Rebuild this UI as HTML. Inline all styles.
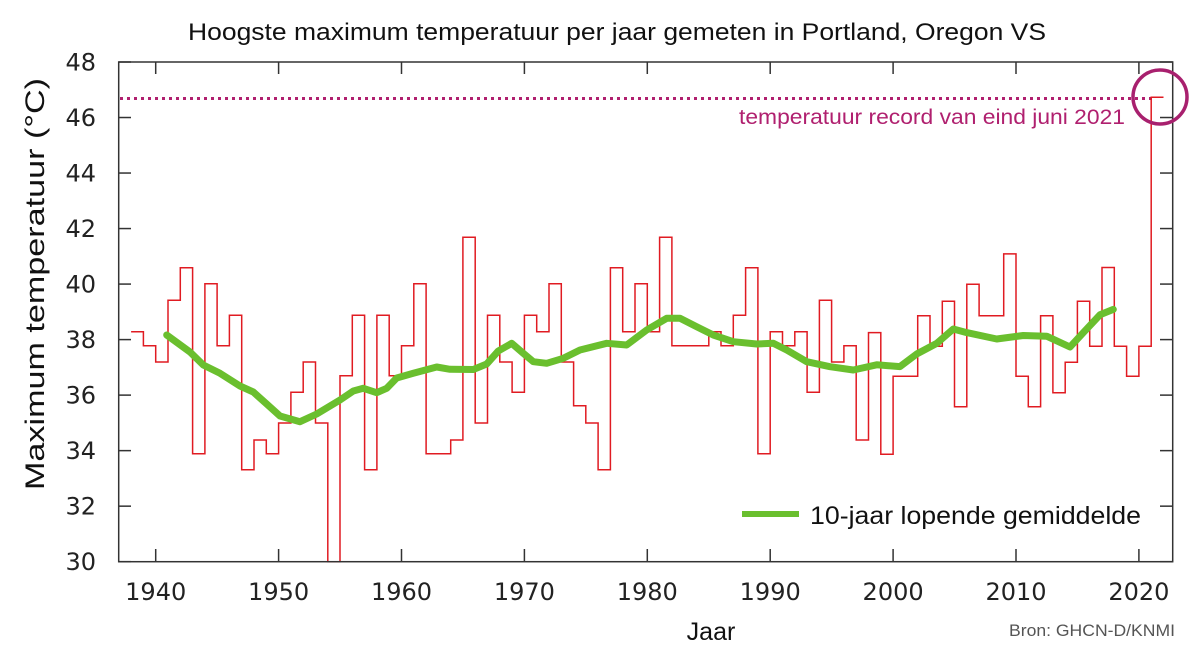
<!DOCTYPE html>
<html><head><meta charset="utf-8"><style>html,body{margin:0;padding:0;background:#fff}svg{display:block}</style></head>
<body>
<svg id="c" width="1200" height="672" xmlns="http://www.w3.org/2000/svg">
<rect width="1200" height="672" fill="#fff"/>
<text x="188" y="40" font-family="Liberation Sans, sans-serif" font-size="24" fill="#111" textLength="858" lengthAdjust="spacingAndGlyphs">Hoogste maximum temperatuur per jaar gemeten in Portland, Oregon VS</text>
<g id="ticks" stroke="#333" stroke-width="1.5"></g>
<g id="labels" font-family="DejaVu Sans, sans-serif" font-size="24" fill="#222"></g>
<line x1="120" y1="98.5" x2="1152" y2="98.5" stroke="#b0206f" stroke-width="3" stroke-dasharray="3,4"/>
<text x="739" y="124" font-family="Liberation Sans, sans-serif" font-size="21" fill="#b0206f" textLength="386" lengthAdjust="spacingAndGlyphs">temperatuur record van eind juni 2021</text>
<path id="step" fill="none" stroke="#e01b22" stroke-width="1.5"/>
<path id="avg" fill="none" stroke="#6abf2e" stroke-width="7" stroke-linecap="round" stroke-linejoin="round"/>
<rect x="118.7" y="62" width="1054" height="499.7" fill="none" stroke="#333" stroke-width="1.5"/>
<circle cx="1160" cy="97" r="27" fill="none" stroke="#a8206e" stroke-width="3.5"/>
<line x1="742" y1="514" x2="799" y2="514" stroke="#6abf2e" stroke-width="6"/>
<text x="810" y="524" font-family="Liberation Sans, sans-serif" font-size="25" fill="#111" textLength="331" lengthAdjust="spacingAndGlyphs">10-jaar lopende gemiddelde</text>
<text x="711" y="640" text-anchor="middle" font-family="Liberation Sans, sans-serif" font-size="25" fill="#111">Jaar</text>
<text x="1009" y="636" font-family="Liberation Sans, sans-serif" font-size="17" fill="#555" textLength="166" lengthAdjust="spacingAndGlyphs">Bron: GHCN-D/KNMI</text>
<text transform="translate(44,284) rotate(-90)" text-anchor="middle" font-family="Liberation Sans, sans-serif" font-size="27" fill="#111" textLength="412" lengthAdjust="spacingAndGlyphs">Maximum temperatuur (°C)</text>
</svg>
<script>
var NS="http://www.w3.org/2000/svg";
function X(y){return 155.7+(y-1940)*12.29}
function Y(t){return 62+(48-t)*27.76}
var tk=document.getElementById('ticks'),lb=document.getElementById('labels');
function L(x1,y1,x2,y2){var l=document.createElementNS(NS,'line');l.setAttribute('x1',x1);l.setAttribute('y1',y1);l.setAttribute('x2',x2);l.setAttribute('y2',y2);tk.appendChild(l);}
function T(x,y,s,a){var t=document.createElementNS(NS,'text');t.setAttribute('x',x);t.setAttribute('y',y);t.setAttribute('text-anchor',a);t.textContent=s;lb.appendChild(t);}
for(var v=30;v<=48;v+=2){var y=Y(v);L(118.7,y,131,y);L(1160,y,1172.7,y);T(96,y+8.5,String(v),'end');}
for(var yr=1940;yr<=2020;yr+=10){var x=X(yr);L(x,561.7,x,549);L(x,62,x,74);T(x,600,String(yr),'middle');}
var py=[[1938,331.7],[1939,345.7],[1940,362],[1941,300.3],[1942,267.7],[1943,453.7],[1944,283.7],[1945,345.7],[1946,315.3],[1947,469.7],[1948,440],[1949,453.7],[1950,423],[1951,392.3],[1952,362],[1953,423],[1954,561.7],[1955,375.7],[1956,315.3],[1957,469.7],[1958,315.3],[1959,375.7],[1960,345.7],[1961,283.7],[1962,453.7],[1963,453.7],[1964,440],[1965,237.3],[1966,423],[1967,315.3],[1968,362],[1969,392.3],[1970,315.3],[1971,331.7],[1972,283.7],[1973,362],[1974,405.7],[1975,423],[1976,469.7],[1977,267.7],[1978,331.7],[1979,283.7],[1980,331.7],[1981,237.3],[1982,345.7],[1983,345.7],[1984,345.7],[1985,331.7],[1986,345.7],[1987,315.3],[1988,267.7],[1989,453.7],[1990,331.7],[1991,345.7],[1992,331.7],[1993,392.3],[1994,300.3],[1995,362],[1996,345.7],[1997,440],[1998,332.6],[1999,454.3],[2000,376.3],[2001,376.3],[2002,315.8],[2003,346.2],[2004,301.2],[2005,406.7],[2006,284.3],[2007,315.8],[2008,315.8],[2009,253.9],[2010,376.3],[2011,406.7],[2012,315.8],[2013,392.8],[2014,362.3],[2015,301.2],[2016,346.2],[2017,267.5],[2018,346.2],[2019,376.3],[2020,346.2],[2021,97.2]];
var d='M'+X(1938)+' '+py[0][1];
for(var i=0;i<py.length;i++){var a=py[i];d+=' L'+X(a[0]).toFixed(1)+' '+a[1]+' L'+X(a[0]+1).toFixed(1)+' '+a[1];}
document.getElementById('step').setAttribute('d',d);
var g=[[166.7,335],[190,352],[203.3,365],[220,373.3],[240,386],[253.3,392],[266.7,404],[280,416],[300,421.7],[316.7,414],[340,400],[353.3,391],[363.3,388.3],[376.7,392.7],[386.7,388.3],[396.7,378],[413.3,373.3],[436.7,367],[450,369.3],[473.3,369.5],[486.7,364],[498.3,351],[511.7,343.3],[523.3,353.3],[533.3,361.7],[546.7,363.3],[563.3,358.3],[580,350],[606.7,343.3],[626.7,345],[646.7,330],[666.7,318.3],[680,318.3],[696.7,326.7],[713.3,335],[733.3,341.7],[756.7,344],[773.3,343.3],[786.7,350],[806.7,361.7],[830,366.7],[853.3,370],[876.7,364.8],[900,366.6],[916.7,354],[936.7,343.4],[953.3,329],[966.7,332.6],[996.7,339],[1023.3,335.5],[1046.7,336.2],[1070,347],[1083.3,332.6],[1100,314.8],[1113.3,309.4]];
var e='M'+g[0][0]+' '+g[0][1];for(var j=1;j<g.length;j++)e+=' L'+g[j][0]+' '+g[j][1];
document.getElementById('avg').setAttribute('d',e);
</script>
</body></html>
